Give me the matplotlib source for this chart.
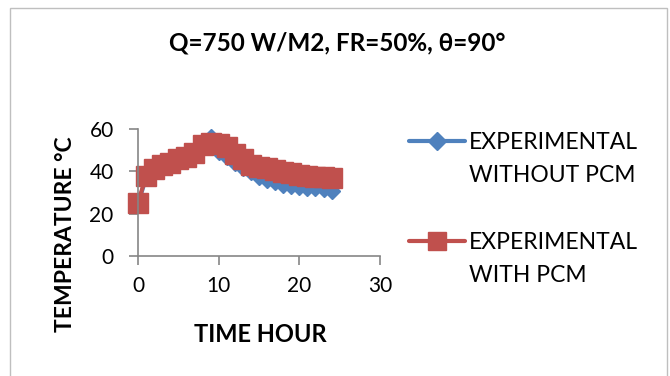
import matplotlib
matplotlib.use("Agg")
import matplotlib.pyplot as plt
from matplotlib.patches import Rectangle
from matplotlib.lines import Line2D

# Hourly temperature readings
hours = list(range(25))
without_pcm = [24.5, 37, 40, 42, 43.5, 45, 46.5, 50, 53, 56, 49, 47, 44, 41.5, 39.5,
               37.5, 36, 35, 33.5, 33, 32.5, 32, 32, 31.5, 30.5]
with_pcm = [25, 38, 41, 43, 44, 46, 47, 48.5, 52.5, 53.5, 53, 51.5, 48, 46, 43,
            42, 41.5, 40.5, 39.5, 39, 38.5, 38, 37.5, 37.2, 37]

title = "Q=750 W/M2, FR=50%, θ=90°"
xlabel = "TIME HOUR"
ylabel = "TEMPERATURE °C"
label_without = ["EXPERIMENTAL", "WITHOUT PCM"]
label_with = ["EXPERIMENTAL", "WITH PCM"]
xticks = [0, 10, 20, 30]
yticks = [0, 20, 40, 60]

blue = "#4F81BD"
red = "#C0504D"
axis_gray = "#868686"

plt.rcParams["font.family"] = ["Lato", "DejaVu Sans"]

W, H = 670, 376
fig = plt.figure(figsize=(W / 100, H / 100), dpi=100)


def fx(px):
    return px / W


def fy(py):
    return 1 - py / H


# chart frame
fig.patches.append(Rectangle((fx(10), -0.05), fx(657), fy(8) + 0.05,
                             transform=fig.transFigure, fill=False,
                             edgecolor="#bfbfbf", linewidth=1.0))

ax = fig.add_axes([fx(138), fy(256), fx(380 - 138), (256 - 129) / H])
blue_style = dict(color=blue, linewidth=3, marker="D", markersize=8,
                  markerfacecolor=blue, markeredgecolor=blue)
red_style = dict(color=red, linewidth=3, marker="s", markersize=14,
                 markerfacecolor=red, markeredgecolor=red)
l1, = ax.plot(hours, without_pcm, clip_on=False, **blue_style)
l2, = ax.plot(hours, with_pcm, clip_on=False, **red_style)

ax.set_xlim(0, 30)
ax.set_ylim(0, 60)
ax.set_xticks(xticks)
ax.set_yticks(yticks)
for s in ["top", "right"]:
    ax.spines[s].set_visible(False)
for s in ["left", "bottom"]:
    ax.spines[s].set_color(axis_gray)
    ax.spines[s].set_linewidth(1.2)
ax.tick_params(axis="both", direction="out", length=6.5, width=1.2,
               color=axis_gray, labelsize=15, labelcolor="black")
ax.tick_params(axis="x", pad=8)
ax.tick_params(axis="y", pad=11)

# axis titles and chart title
fig.text(fx(260), fy(342), xlabel, ha="center", va="baseline",
         fontsize=17, fontweight="bold")
fig.text(fx(72), fy(234), ylabel, ha="center", va="baseline",
         rotation=90, rotation_mode="anchor", fontsize=16.5, fontweight="bold")
fig.text(fx(337), fy(50), title, ha="center", va="baseline",
         fontsize=17.5, fontweight="bold")

# legend: handle sits beside the first line of each entry
entries = [(blue_style, label_without, 141, 149, 182),
           (red_style, label_with, 240.5, 249, 282)]
for style, lines, yc, b1, b2 in entries:
    fig.add_artist(Line2D([fx(409), fx(465)], [fy(yc), fy(yc)],
                          transform=fig.transFigure, color=style["color"],
                          linewidth=style["linewidth"], solid_capstyle="round"))
    fig.add_artist(Line2D([fx(437)], [fy(yc)], transform=fig.transFigure,
                          linestyle="none", marker=style["marker"],
                          markersize=style["markersize"] * (1.1 if style["marker"] == "D" else 0.9),
                          markerfacecolor=style["color"],
                          markeredgecolor=style["color"]))
    fig.text(fx(469), fy(b1), lines[0], ha="left", va="baseline", fontsize=16.5)
    fig.text(fx(469), fy(b2), lines[1], ha="left", va="baseline", fontsize=16.5)

fig.savefig("out.png", dpi=100)
